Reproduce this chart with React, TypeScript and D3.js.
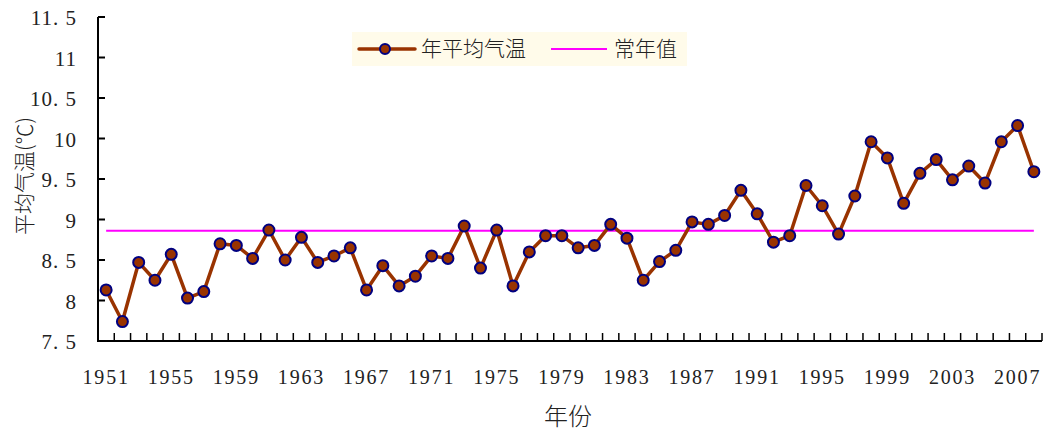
import React from 'react';
import * as d3 from 'd3';

// 1951–2008 annual mean temperature (°C)
const YEARS: number[] = d3.range(1951, 2009);
const TEMPS: number[] = [
  8.13, 7.74, 8.47, 8.25, 8.57, 8.03, 8.11, 8.70, 8.68, 8.52,
  8.87, 8.50, 8.78, 8.47, 8.55, 8.65, 8.13, 8.43, 8.18, 8.30,
  8.55, 8.52, 8.92, 8.40, 8.87, 8.18, 8.60, 8.80, 8.80, 8.65,
  8.68, 8.94, 8.77, 8.25, 8.48, 8.62, 8.97, 8.94, 9.05, 9.36,
  9.07, 8.72, 8.80, 9.42, 9.17, 8.82, 9.29, 9.96, 9.76, 9.20,
  9.57, 9.74, 9.49, 9.66, 9.45, 9.96, 10.16, 9.59,
];
const NORMAL = 8.86;
const Y_TICKS: number[] = [7.5, 8, 8.5, 9, 9.5, 10, 10.5, 11, 11.5];
const X_LABEL_YEARS: number[] = YEARS.filter((y) => (y - 1951) % 4 === 0);

const W = 1044;
const H = 433;
const LEFT = 98;
const RIGHT = 1042;
const TOP = 17;
const BOTTOM = 341;

const BROWN = '#993300';
const NAVY = '#000080';
const MAGENTA = '#FF00FF';
const NUM_FONT = '"Liberation Serif", "Times New Roman", serif';
const CJK_FONT = '"Noto Sans CJK SC", sans-serif';

// y tick labels look like "8. 5" in the original
const fmtY = (v: number) => (Number.isInteger(v) ? String(v) : String(v).replace('.', '. '));

export default function App() {
  const x = d3.scaleBand<number>().domain(YEARS).range([LEFT, RIGHT]).padding(0);
  const bw = x.bandwidth();
  const cx = (yr: number) => (x(yr) as number) + bw / 2;
  const y = d3.scaleLinear().domain([7.5, 11.5]).range([BOTTOM, TOP]);

  const line = d3
    .line<number>()
    .x((_, i) => cx(YEARS[i]))
    .y((d) => y(d));

  const boundaries = [...YEARS.map((yr) => x(yr) as number), RIGHT];

  return (
    <svg
      width={W}
      height={H}
      style={{ position: 'absolute', left: 0, top: 0, background: '#fff' }}
    >
      {/* normal line */}
      <line
        x1={cx(YEARS[0])}
        x2={cx(YEARS[YEARS.length - 1])}
        y1={y(NORMAL)}
        y2={y(NORMAL)}
        stroke={MAGENTA}
        strokeWidth={2}
      />

      {/* series */}
      <path d={line(TEMPS) || ''} fill="none" stroke={BROWN} strokeWidth={3.5} strokeLinejoin="round" />
      {TEMPS.map((v, i) => (
        <circle key={i} cx={cx(YEARS[i])} cy={y(v)} r={5.5} fill={BROWN} stroke={NAVY} strokeWidth={2} />
      ))}

      {/* y axis */}
      <line x1={LEFT} x2={LEFT} y1={TOP} y2={BOTTOM} stroke="#000" strokeWidth={2} />
      {Y_TICKS.map((t) => (
        <g key={t}>
          <line x1={LEFT} x2={LEFT + 7} y1={y(t)} y2={y(t)} stroke="#000" strokeWidth={2} />
          <text
            x={77}
            y={y(t)}
            dy="0.4em"
            textAnchor="end"
            fontFamily={NUM_FONT}
            fontSize={21}
            letterSpacing={1}
            fill="#222"
          >
            {fmtY(t)}
          </text>
        </g>
      ))}

      {/* x axis */}
      <line x1={LEFT - 1} x2={RIGHT} y1={BOTTOM} y2={BOTTOM} stroke="#000" strokeWidth={2} />
      {boundaries.map((bx, i) => (
        <line key={i} x1={bx} x2={bx} y1={BOTTOM} y2={BOTTOM - 8} stroke="#000" strokeWidth={1.5} />
      ))}
      {X_LABEL_YEARS.map((yr) => (
        <text
          key={yr}
          x={cx(yr)}
          y={384}
          textAnchor="middle"
          fontFamily={NUM_FONT}
          fontSize={20}
          letterSpacing={1.8}
          fill="#222"
        >
          {yr}
        </text>
      ))}

      {/* axis titles */}
      <text
        x={568}
        y={425}
        textAnchor="middle"
        fontFamily={CJK_FONT}
        fontSize={24}
        fontWeight={300}
        fill="#222"
      >
        年份
      </text>
      <text
        transform="translate(32,176) rotate(-90)"
        textAnchor="middle"
        fontFamily={CJK_FONT}
        fontSize={21}
        fontWeight={300}
        fill="#222"
      >
        平均气温(℃)
      </text>

      {/* legend */}
      <g>
        <rect x={352} y={32} width={335} height={34} fill="#FFFBEA" />
        <line x1={359} x2={415} y1={49} y2={49} stroke={BROWN} strokeWidth={3.5} strokeLinecap="round" />
        <circle cx={385} cy={49} r={5} fill={BROWN} stroke={NAVY} strokeWidth={2} />
        <text x={421} y={49} dy="0.35em" fontFamily={CJK_FONT} fontSize={21} fontWeight={300} fill="#222">
          年平均气温
        </text>
        <line x1={551} x2={607} y1={49} y2={49} stroke={MAGENTA} strokeWidth={2} />
        <text x={614} y={49} dy="0.35em" fontFamily={CJK_FONT} fontSize={21} fontWeight={300} fill="#222">
          常年值
        </text>
      </g>
    </svg>
  );
}
